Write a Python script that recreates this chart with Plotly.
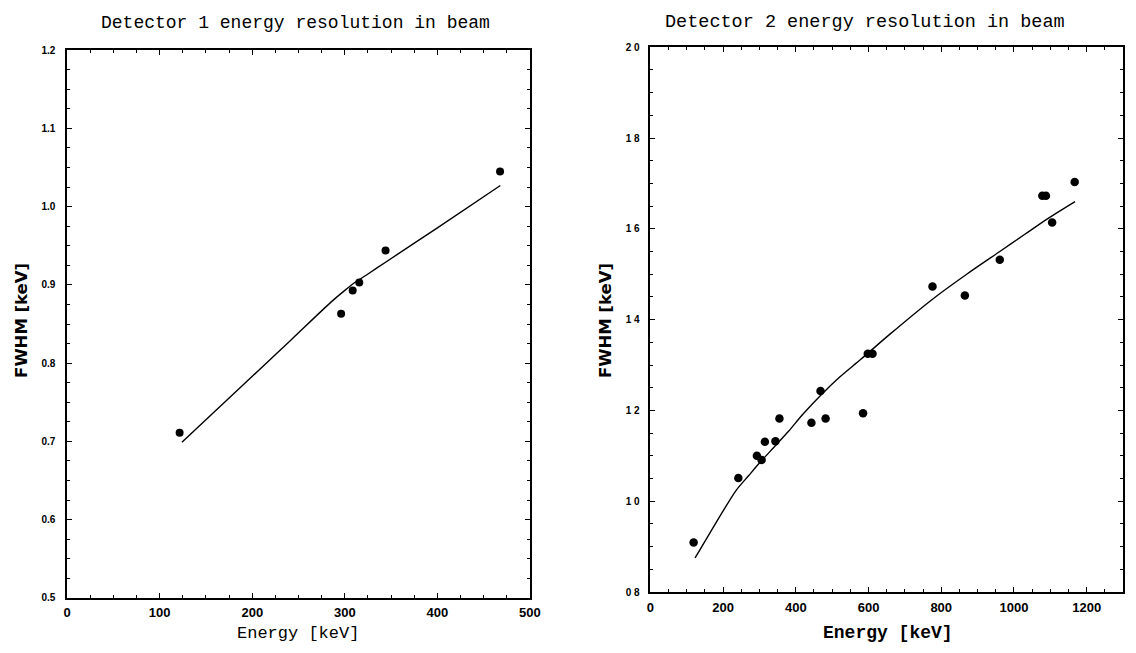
import plotly.graph_objects as go

# ---- Detector 1 data ----
d1_energy = [121.5, 296, 308.5, 315.6, 344, 467.7]
d1_fwhm = [0.711, 0.863, 0.893, 0.903, 0.944, 1.045]
d1_fit_energy = [124, 198, 243, 285, 300, 312, 325, 344, 400, 468]
d1_fit_fwhm = [0.699, 0.781, 0.831, 0.878, 0.893, 0.904, 0.914, 0.929, 0.973, 1.027]

# ---- Detector 2 data ----
d2_energy = [119, 242, 293, 306, 315, 344, 355, 443, 468, 482, 585,
             598, 611, 776, 865, 961, 1078, 1088, 1105, 1167]
d2_fwhm = [0.909, 1.051, 1.100, 1.091, 1.131, 1.132, 1.182, 1.173, 1.243, 1.182, 1.194,
           1.325, 1.325, 1.473, 1.453, 1.532, 1.673, 1.673, 1.614, 1.703]
d2_fit_energy = [123, 180, 236, 270, 300, 340, 380, 420, 468, 520, 578, 659, 776, 870, 961, 1030, 1092, 1168]
d2_fit_fwhm = [0.875, 0.952, 1.024, 1.056, 1.084, 1.119, 1.154, 1.192, 1.233, 1.273, 1.312, 1.368, 1.445, 1.500, 1.550, 1.588, 1.622, 1.660]

# tick labels
d1_yticks = [0.5, 0.6, 0.7, 0.8, 0.9, 1.0, 1.1, 1.2]
d1_yticktext = ["0.5", "0.6", "0.7", "0.8", "0.9", "1.0", "1.1", "1.2"]
d1_xticks = [0, 100, 200, 300, 400, 500]
d2_yticks = [0.8, 1.0, 1.2, 1.4, 1.6, 1.8, 2.0]
d2_yticktext = ["0 8", "1 0", "1 2", "1 4", "1 6", "1 8", "2 0"]
d2_xticks = [0, 200, 400, 600, 800, 1000, 1200]

W, H = 1136, 653

fig = go.Figure()
fig.add_trace(go.Scatter(x=d1_fit_energy, y=d1_fit_fwhm, mode="lines",
                         line=dict(color="black", width=1.4, shape="spline", smoothing=0.6),
                         xaxis="x", yaxis="y", showlegend=False))
fig.add_trace(go.Scatter(x=d1_energy, y=d1_fwhm, mode="markers",
                         marker=dict(color="black", size=8), xaxis="x", yaxis="y", showlegend=False))
fig.add_trace(go.Scatter(x=d2_fit_energy, y=d2_fit_fwhm, mode="lines",
                         line=dict(color="black", width=1.4, shape="spline", smoothing=0.8),
                         xaxis="x2", yaxis="y2", showlegend=False))
fig.add_trace(go.Scatter(x=d2_energy, y=d2_fwhm, mode="markers",
                         marker=dict(color="black", size=8.5), xaxis="x2", yaxis="y2", showlegend=False))

tickfont_x = dict(family="Liberation Sans", size=13, color="black", weight="bold")
tickfont_y = dict(family="Liberation Sans", size=10, color="black", weight="bold")

common = dict(showline=True, linecolor="black", linewidth=1.6, mirror="ticks",
              ticks="inside", ticklen=5, tickwidth=1, tickcolor="black",
              showgrid=False, zeroline=False, fixedrange=True)

fig.update_layout(
    width=W, height=H,
    margin=dict(l=0, r=0, t=0, b=0),
    paper_bgcolor="white", plot_bgcolor="white",
    xaxis=dict(domain=[64 / W, 533 / W], range=[0, 500], anchor="y",
               tickvals=d1_xticks, tickfont=tickfont_x, ticklabelstandoff=2,
               minor=dict(dtick=25, ticks="inside", ticklen=3, tickcolor="black"), **common),
    yaxis=dict(domain=[(H - 603) / H, (H - 45) / H], range=[0.5, 1.2], anchor="x",
               tickvals=d1_yticks, ticktext=d1_yticktext, tickfont=tickfont_y,
               ticklabelstandoff=8,
               minor=dict(dtick=0.025, ticks="inside", ticklen=3, tickcolor="black"), **common),
    xaxis2=dict(domain=[655 / W, 1134 / W], range=[0, 1300], anchor="y2",
                tickvals=d2_xticks, tickfont=tickfont_x, ticklabelstandoff=3,
                minor=dict(dtick=50, ticks="inside", ticklen=3, tickcolor="black"), **common),
    yaxis2=dict(domain=[(H - 597) / H, (H - 42) / H], range=[0.8, 2.0], anchor="x2",
                tickvals=d2_yticks, ticktext=d2_yticktext, tickfont=tickfont_y,
                ticklabelstandoff=7,
                minor=dict(dtick=0.05, ticks="inside", ticklen=3, tickcolor="black"), **common),
)

title_font = dict(family="Liberation Mono", size=18, color="black")
ann = [
    dict(text="Detector 1 energy resolution in beam", x=295 / W, y=1 - 17 / H, font=title_font),
    dict(text="Detector 2 energy resolution in beam", x=873 / W, y=1 - 17 / H,
         font=dict(family="Liberation Mono", size=18.5, color="black")),
    dict(text="Energy [keV]", x=298 / W, y=1 - 639 / H,
         font=dict(family="Liberation Mono", size=17, color="black")),
    dict(text="Energy [keV]", x=896 / W, y=1 - 639 / H,
         font=dict(family="Liberation Mono", size=18, color="black", weight="bold")),
    dict(text="FWHM [keV]", x=17 / W, y=1 - 320 / H, textangle=-90,
         font=dict(family="DejaVu Sans", size=16.5, color="black", weight="bold")),
    dict(text="FWHM [keV]", x=609 / W, y=1 - 320 / H, textangle=-90,
         font=dict(family="DejaVu Sans", size=16.5, color="black", weight="bold")),
]
for a in ann:
    a.update(xref="paper", yref="paper", showarrow=False, xanchor="center", yanchor="middle")
fig.update_layout(annotations=ann)

fig.write_html("out.html")
